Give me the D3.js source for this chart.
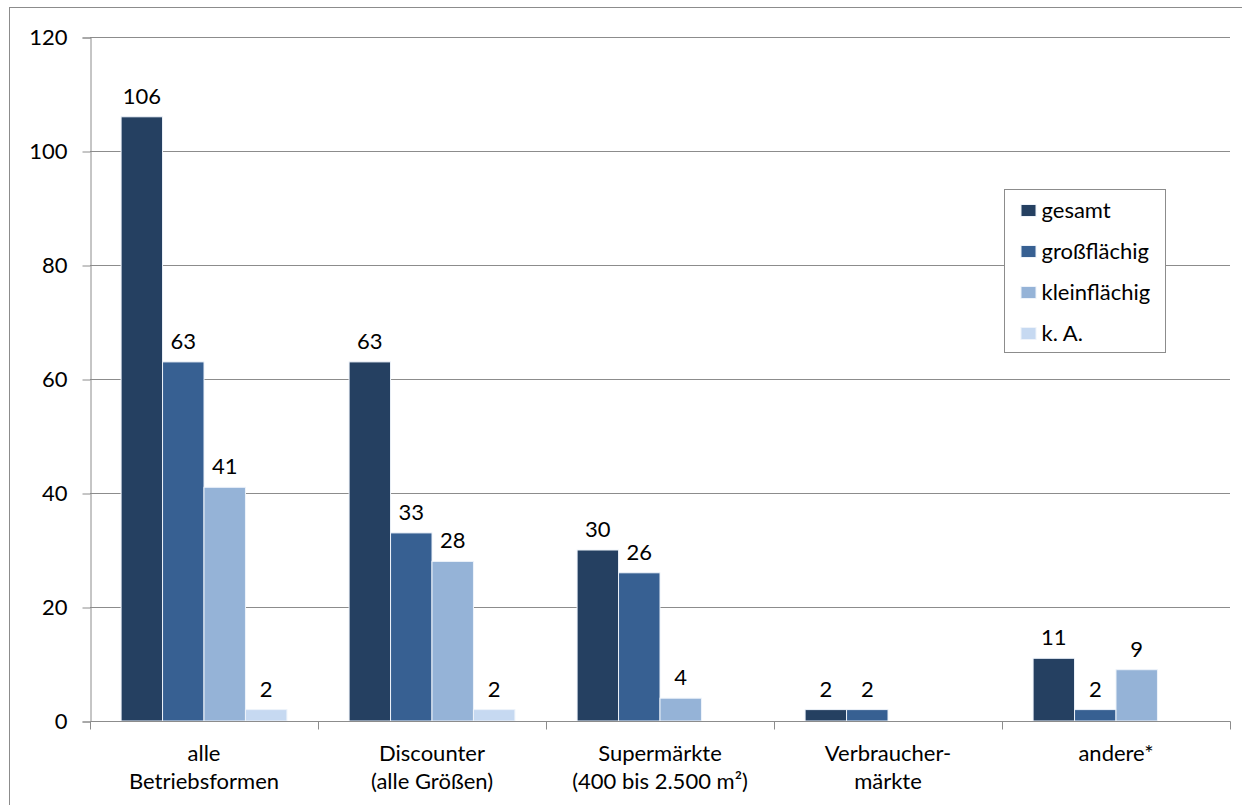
<!DOCTYPE html>
<html>
<head>
<meta charset="utf-8">
<script src="https://cdn.jsdelivr.net/npm/d3@7"></script>
<style>
  html, body { margin: 0; padding: 0; background: #fff; }
  svg { display: block; font-family: Lato, "Open Sans", sans-serif; }
</style>
</head>
<body>
<svg id="chart" width="1242" height="805"></svg>
<script>
// Betriebsformen (category axis, two-line labels)
const categories = ["alle Betriebsformen", "Discounter (alle Größen)", "Supermärkte (400 bis 2.500 m²)", "Verbrauchermärkte", "andere*"];
const categoryLines = [["alle", "Betriebsformen"], ["Discounter", "(alle Größen)"], ["Supermärkte", "(400 bis 2.500 m²)"], ["Verbraucher-", "märkte"], ["andere*"]];

// Series (null = no bar)
const seriesNames = ["gesamt", "großflächig", "kleinflächig", "k. A."];
const gesamt        = [106, 63, 30, 2, 11];
const grossflaechig = [63, 33, 26, 2, 2];
const kleinflaechig = [41, 28, 4, null, 9];
const keineAngabe   = [2, 2, null, null, null];
const seriesValues = [gesamt, grossflaechig, kleinflaechig, keineAngabe];
const seriesColors = ["#254061", "#376092", "#95b3d7", "#c6d9f1"];

const yTicks = [0, 20, 40, 60, 80, 100, 120];

const FS = 22;
const svg = d3.select("#chart");

// outer chart frame
svg.append("rect")
  .attr("x", 9.5).attr("y", 7.5)
  .attr("width", 1400).attr("height", 1000)
  .attr("fill", "none").attr("stroke", "#8c8c8c").attr("stroke-width", 1);

const plot = { left: 90, right: 1230, top: 37, bottom: 721 };

const x0 = d3.scaleBand().domain(categories).range([plot.left, plot.right]).paddingInner(0).paddingOuter(0);
const x1 = d3.scaleBand().domain(seriesNames).range([0, x0.bandwidth()]).paddingInner(0).paddingOuter(0.75);
const y = d3.scaleLinear().domain([0, 120]).range([plot.bottom, plot.top]);

// horizontal gridlines
svg.append("g").selectAll("line")
  .data(yTicks.filter(t => t > 0))
  .join("line")
  .attr("x1", plot.left).attr("x2", plot.right)
  .attr("y1", d => Math.round(y(d)) + 0.5).attr("y2", d => Math.round(y(d)) + 0.5)
  .attr("stroke", "#8c8c8c").attr("stroke-width", 1);

// y axis
const yAxis = svg.append("g")
  .attr("transform", `translate(${plot.left + 0.5},0.5)`)
  .call(d3.axisLeft(y).tickValues(yTicks).tickSize(8).tickPadding(15).tickFormat(d3.format("d")));
yAxis.select(".domain").attr("stroke", "#8c8c8c");
yAxis.selectAll(".tick line").attr("stroke", "#8c8c8c");
yAxis.selectAll(".tick text").attr("font-size", FS).attr("fill", "#000").attr("font-family", "Lato, sans-serif");

// bars
const groups = svg.append("g").selectAll("g")
  .data(categories)
  .join("g")
  .attr("transform", d => `translate(${x0(d)},0)`);

seriesNames.forEach((name, si) => {
  const vals = seriesValues[si];
  groups.each(function(cat, ci) {
    const v = vals[ci];
    if (v == null) return;
    const g = d3.select(this);
    g.append("rect")
      .attr("x", x1(name))
      .attr("y", y(v))
      .attr("width", x1.bandwidth())
      .attr("height", y(0) - y(v))
      .attr("fill", seriesColors[si])
      .attr("stroke", "#eef3fa").attr("stroke-width", 1);
    g.append("text")
      .attr("x", x1(name) + x1.bandwidth() / 2)
      .attr("y", y(v) - 13)
      .attr("text-anchor", "middle")
      .attr("font-size", FS)
      .attr("fill", "#000")
      .text(v);
  });
});

// category axis
const xAxis = svg.append("g")
  .attr("transform", `translate(0.5,${plot.bottom + 0.5})`);
xAxis.append("line")
  .attr("x1", plot.left).attr("x2", plot.right)
  .attr("stroke", "#8c8c8c");
xAxis.selectAll("line.tick")
  .data(d3.range(categories.length + 1))
  .join("line")
  .attr("class", "tick")
  .attr("x1", i => Math.round(plot.left + i * x0.bandwidth()))
  .attr("x2", i => Math.round(plot.left + i * x0.bandwidth()))
  .attr("y1", 0).attr("y2", 8)
  .attr("stroke", "#8c8c8c");

svg.append("g").selectAll("text")
  .data(categories)
  .join("text")
  .attr("x", d => x0(d) + x0.bandwidth() / 2)
  .attr("y", 761)
  .attr("text-anchor", "middle")
  .attr("font-size", FS)
  .attr("fill", "#000")
  .each(function(d, i) {
    d3.select(this).selectAll("tspan")
      .data(categoryLines[i])
      .join("tspan")
      .attr("x", x0(d) + x0.bandwidth() / 2)
      .attr("dy", (t, j) => j === 0 ? 0 : 28)
      .text(t => t);
  });

// legend
const legend = svg.append("g").attr("transform", "translate(1004.5,189.5)");
legend.append("rect")
  .attr("width", 161).attr("height", 163)
  .attr("fill", "#fff").attr("stroke", "#8c8c8c");
seriesNames.forEach((name, i) => {
  const top = 15 + i * 41;
  legend.append("rect")
    .attr("x", 16.5).attr("y", top)
    .attr("width", 15).attr("height", 12)
    .attr("fill", seriesColors[i])
    .attr("stroke", "#eef3fa").attr("stroke-width", 1);
  legend.append("text")
    .attr("x", 37).attr("y", top + 13)
    .attr("font-size", FS)
    .attr("fill", "#000")
    .text(name);
});
</script>
</body>
</html>
